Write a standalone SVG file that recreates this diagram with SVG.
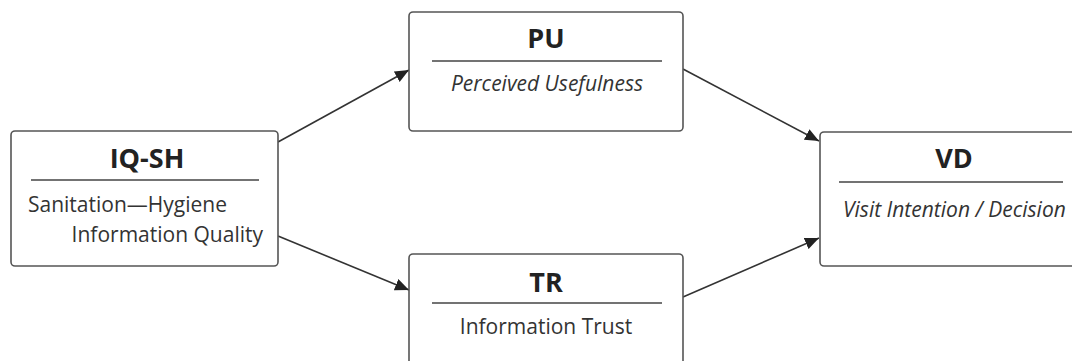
<svg xmlns="http://www.w3.org/2000/svg" width="1072" height="361" viewBox="0 0 1072 361">
<defs>
<marker id="ah" markerWidth="14" markerHeight="12" refX="14" refY="6" orient="auto" markerUnits="userSpaceOnUse" viewBox="0 0 14 12">
<path d="M0,0 L14,6 L0,12 Z" fill="#222"/>
</marker>
<style>
.box{fill:#fff;stroke:#555;stroke-width:1.6}
.rule{stroke:#444;stroke-width:1.3}
.t{font-family:"Open Sans","Noto Sans",sans-serif;font-weight:700;font-size:27px;fill:#222;text-anchor:middle}
.s{font-family:"Open Sans","Noto Sans",sans-serif;font-size:21px;fill:#333}
.i{font-style:italic}
.c{stroke:#333;stroke-width:1.6;fill:none;marker-end:url(#ah)}
</style>
</defs>
<rect width="1072" height="361" fill="#fff"/>
<g id="connectors">
<line class="c" x1="278" y1="142" x2="409" y2="70"/>
<line class="c" x1="683" y1="69" x2="819" y2="141"/>
<line class="c" x1="278" y1="236" x2="409" y2="290"/>
<line class="c" x1="683" y1="297" x2="819" y2="238"/>
</g>
<g id="IQ-SH">
<rect class="box" x="11" y="131" width="267" height="135" rx="4"/>
<text class="t" x="147" y="168">IQ-SH</text>
<line class="rule" x1="31" y1="180" x2="259" y2="180"/>
<text class="s" x="28" y="212">Sanitation—Hygiene</text>
<text class="s" x="263" y="242" text-anchor="end">Information Quality</text>
</g>
<g id="PU">
<rect class="box" x="409" y="12" width="274" height="119" rx="4"/>
<text class="t" x="546" y="48">PU</text>
<line class="rule" x1="432" y1="61" x2="662" y2="61"/>
<text class="s i" x="547" y="91" text-anchor="middle">Perceived Usefulness</text>
</g>
<g id="TR">
<rect class="box" x="409" y="254" width="274" height="120" rx="4"/>
<text class="t" x="546" y="292">TR</text>
<line class="rule" x1="432" y1="303" x2="662" y2="303"/>
<text class="s" x="546" y="334" text-anchor="middle">Information Trust</text>
</g>
<g id="VD">
<rect class="box" x="820" y="132" width="270" height="134" rx="4"/>
<text class="t" x="954" y="168">VD</text>
<line class="rule" x1="839" y1="182" x2="1063" y2="182"/>
<text class="s i" x="843" y="217">Visit Intention / Decision</text>
</g>
</svg>
